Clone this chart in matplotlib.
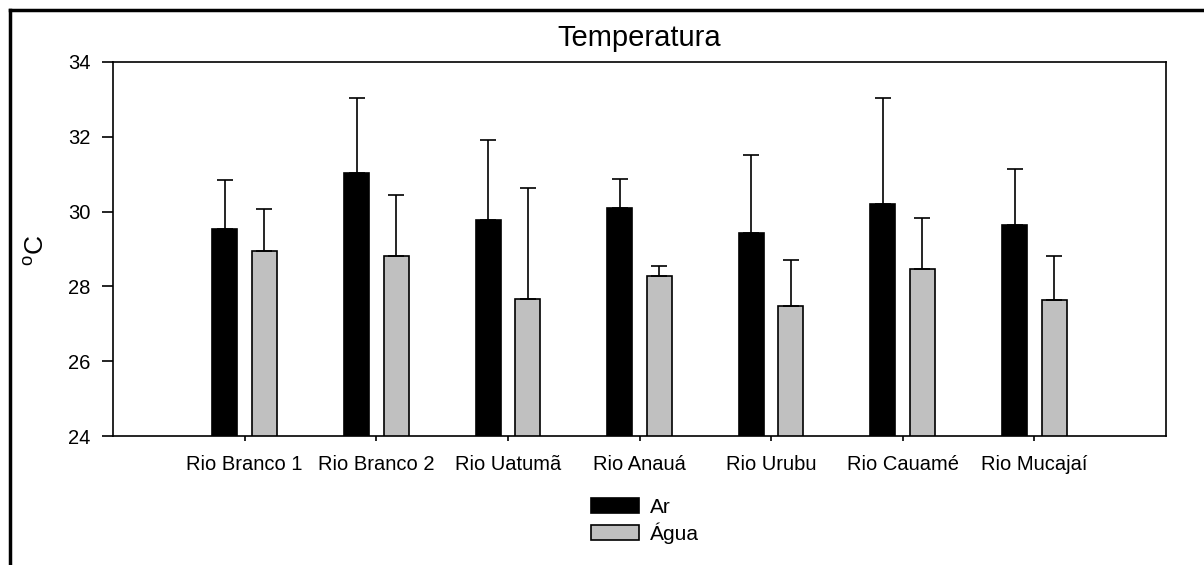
import matplotlib
matplotlib.use('Agg')
import matplotlib.pyplot as plt
from matplotlib.lines import Line2D
import numpy as np

plt.rcParams['font.family'] = ['Liberation Sans', 'DejaVu Sans']

# --- Data ---
rios = ['Rio Branco 1', 'Rio Branco 2', 'Rio Uatumã', 'Rio Anauá', 'Rio Urubu', 'Rio Cauamé', 'Rio Mucajaí']
ar_mean = [29.53, 31.04, 29.78, 30.10, 29.44, 30.21, 29.64]
ar_sd = [1.31, 2.00, 2.13, 0.78, 2.08, 2.83, 1.51]
agua_mean = [28.95, 28.80, 27.67, 28.27, 27.48, 28.47, 27.64]
agua_sd = [1.12, 1.64, 2.97, 0.27, 1.23, 1.36, 1.17]


def main():
    fig = plt.figure(figsize=(12.04, 5.65), dpi=100)
    ax = fig.add_axes([0.0939, 0.2283, 0.8745, 0.662])

    x = np.arange(1, len(rios) + 1)
    width = 0.19
    offset = 0.15

    ax.bar(x - offset, ar_mean, width, color='black', edgecolor='black',
           linewidth=1.2, label='Ar', zorder=2)
    ax.bar(x + offset, agua_mean, width, color='#c0c0c0', edgecolor='black',
           linewidth=1.2, label='Água', zorder=2)

    # --- upper error bars only ---
    ax.errorbar(x - offset, ar_mean, yerr=[np.zeros(len(ar_sd)), ar_sd], fmt='none',
                ecolor='black', elinewidth=1.2, capsize=5.8, capthick=1.2, zorder=3)
    ax.errorbar(x + offset, agua_mean, yerr=[np.zeros(len(agua_sd)), agua_sd], fmt='none',
                ecolor='black', elinewidth=1.2, capsize=5.8, capthick=1.2, zorder=3)

    ax.set_xlim(0, 8)
    ax.set_ylim(24, 34)
    ax.set_yticks([24, 26, 28, 30, 32, 34])
    ax.set_xticks(x)
    ax.set_xticklabels(rios)
    ax.tick_params(axis='both', labelsize=14.5, direction='out', width=1.2)
    ax.tick_params(axis='y', length=8, pad=8)
    ax.tick_params(axis='x', length=3.5, pad=10)
    for s in ax.spines.values():
        s.set_linewidth(1.2)

    ax.set_ylabel(r'$\mathregular{^oC}$', fontsize=19)
    ax.yaxis.set_label_coords(-0.061, 0.497)

    fig.text(0.5305, 0.933, 'Temperatura', ha='center', va='center', fontsize=21)

    ax.legend(loc='upper left', bbox_to_anchor=(0.4839, 0.1335), bbox_transform=fig.transFigure,
              frameon=False, fontsize=15, handlelength=2.3, handleheight=0.75,
              handletextpad=0.55, labelspacing=0.25, borderaxespad=0)

    # --- thick outer frame (left and top) ---
    fig.add_artist(Line2D([0.0079, 0.0079], [0, 0.983], transform=fig.transFigure,
                          color='black', linewidth=2.5))
    fig.add_artist(Line2D([0.0079, 1.0], [0.983, 0.983], transform=fig.transFigure,
                          color='black', linewidth=2.5))

    fig.savefig('out.png', dpi=100)


if __name__ == "__main__":
    main()
